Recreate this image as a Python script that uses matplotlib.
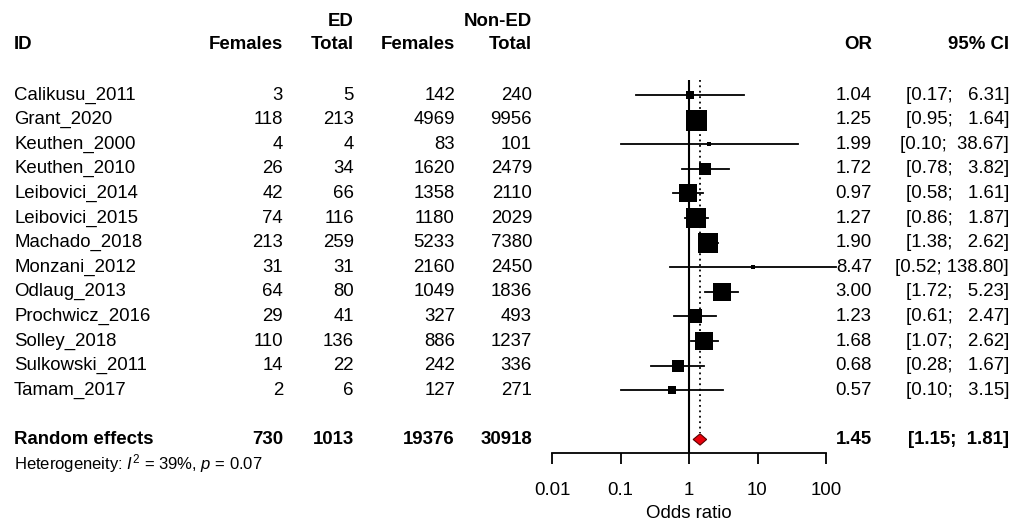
import numpy as np
import matplotlib
matplotlib.use("Agg")
from matplotlib import pyplot as plt
from matplotlib import transforms
from matplotlib.patches import Polygon

plt.rcParams['font.family'] = ['Liberation Sans', 'DejaVu Sans']
plt.rcParams['mathtext.fontset'] = 'custom'
plt.rcParams['mathtext.rm'] = 'Liberation Sans'
plt.rcParams['mathtext.it'] = 'Liberation Sans:italic'

# study data
studies = ["Calikusu_2011", "Grant_2020", "Keuthen_2000", "Keuthen_2010", "Leibovici_2014",
           "Leibovici_2015", "Machado_2018", "Monzani_2012", "Odlaug_2013", "Prochwicz_2016",
           "Solley_2018", "Sulkowski_2011", "Tamam_2017"]
ed_females = [3, 118, 4, 26, 42, 74, 213, 31, 64, 29, 110, 14, 2]
ed_total = [5, 213, 4, 34, 66, 116, 259, 31, 80, 41, 136, 22, 6]
non_females = [142, 4969, 83, 1620, 1358, 1180, 5233, 2160, 1049, 327, 886, 242, 127]
non_total = [240, 9956, 101, 2479, 2110, 2029, 7380, 2450, 1836, 493, 1237, 336, 271]
odds = [1.04, 1.25, 1.99, 1.72, 0.97, 1.27, 1.90, 8.47, 3.00, 1.23, 1.68, 0.68, 0.57]
ci_low = [0.17, 0.95, 0.10, 0.78, 0.58, 0.86, 1.38, 0.52, 1.72, 0.61, 1.07, 0.28, 0.10]
ci_high = [6.31, 1.64, 38.67, 3.82, 1.61, 1.87, 2.62, 138.80, 5.23, 2.47, 2.62, 1.67, 3.15]
# estimated study weights (%) - read from square sizes
weight = [2.3, 16.0, 0.9, 6.1, 10.5, 14.5, 14.5, 0.9, 10.5, 7.1, 10.5, 4.4, 1.8]

# pooled
pooled_counts = [730, 1013, 19376, 30918]
pooled_or = 1.45
pooled_low = 1.15
pooled_high = 1.81
het_i2 = 39
het_p = 0.07

W, H = 1019, 527
FS = 13.4
fig = plt.figure(figsize=(W / 100, H / 100), dpi=100)

# forest panel, pixel box x 552..826, y 80..453
ax = fig.add_axes([552 / W, 1 - 453 / H, (826 - 552) / W, (453 - 80) / H])
ax.set_xscale('log')
ax.set_xlim(0.01, 100)
ax.set_ylim(14.55, -0.61)
for s in ['left', 'top', 'right']:
    ax.spines[s].set_visible(False)
ax.spines['bottom'].set_linewidth(1.3)
ax.set_yticks([])
ax.set_xticks([0.01, 0.1, 1, 10, 100])
ax.set_xticklabels(['0.01', '0.1', '1', '10', '100'])
ax.xaxis.set_minor_locator(matplotlib.ticker.NullLocator())
ax.tick_params(axis='x', direction='out', length=8, width=1.3, pad=13, labelsize=FS)
ax.patch.set_alpha(0)

rows = np.arange(len(studies))
pooled_row = 14

ax.axvline(1, color='black', lw=1.5, zorder=1)
ax.plot([pooled_or, pooled_or], [-0.61, pooled_row - 0.25], color='black', lw=1.3,
        linestyle=(0, (1, 2)), zorder=1)

for i in range(len(studies)):
    ax.plot([ci_low[i], ci_high[i]], [rows[i], rows[i]], color='black', lw=1.3,
            clip_on=False, zorder=2)
    side = 21 * np.sqrt(weight[i] / 16.0) * 0.72
    ax.plot(odds[i], rows[i], marker='s', ms=side, color='black', mec='black', mew=0,
            zorder=3)

diamond = Polygon([[pooled_low, pooled_row], [pooled_or, pooled_row - 0.23],
                   [pooled_high, pooled_row], [pooled_or, pooled_row + 0.23]],
                  closed=True, facecolor='#e8000b', edgecolor='#5a0000', lw=0.8, zorder=4)
ax.add_patch(diamond)

ax.text(0.5, 17.0, "Odds ratio", transform=transforms.blended_transform_factory(ax.transAxes, ax.transData),
        ha='center', va='center', fontsize=FS)

tr = transforms.blended_transform_factory(fig.transFigure, ax.transData)


def put(xpx, row, txt, ha='right', bold=False, size=FS):
    ax.text(xpx / W, row, txt, transform=tr, ha=ha, va='center', fontsize=size,
            fontweight='bold' if bold else 'normal', clip_on=False)


# headers
put(354, -2.97, "ED", bold=True)
put(532, -2.97, "Non-ED", bold=True)
put(14, -2.07, "ID", ha='left', bold=True)
put(283, -2.07, "Females", bold=True)
put(354, -2.07, "Total", bold=True)
put(455, -2.07, "Females", bold=True)
put(532, -2.07, "Total", bold=True)
put(872, -2.07, "OR", bold=True)
put(1009, -2.07, "95% CI", bold=True)

for i in range(len(studies)):
    put(14, rows[i], studies[i], ha='left')
    put(283, rows[i], str(ed_females[i]))
    put(354, rows[i], str(ed_total[i]))
    put(455, rows[i], str(non_females[i]))
    put(532, rows[i], str(non_total[i]))
    put(872, rows[i], "%.2f" % odds[i])
    put(1009, rows[i], "[%.2f; %6s]" % (ci_low[i], "%.2f" % ci_high[i]))

put(14, pooled_row, "Random effects", ha='left', bold=True)
put(283, pooled_row, str(pooled_counts[0]), bold=True)
put(354, pooled_row, str(pooled_counts[1]), bold=True)
put(455, pooled_row, str(pooled_counts[2]), bold=True)
put(532, pooled_row, str(pooled_counts[3]), bold=True)
put(872, pooled_row, "%.2f" % pooled_or, bold=True)
put(1009, pooled_row, "[%.2f; %5.2f]" % (pooled_low, pooled_high), bold=True)

put(14, 14.98, "Heterogeneity: $I^2$ = %d%%, $p$ = %.2f" % (het_i2, het_p), ha='left', size=12)

fig.savefig("out.png", dpi=100)
